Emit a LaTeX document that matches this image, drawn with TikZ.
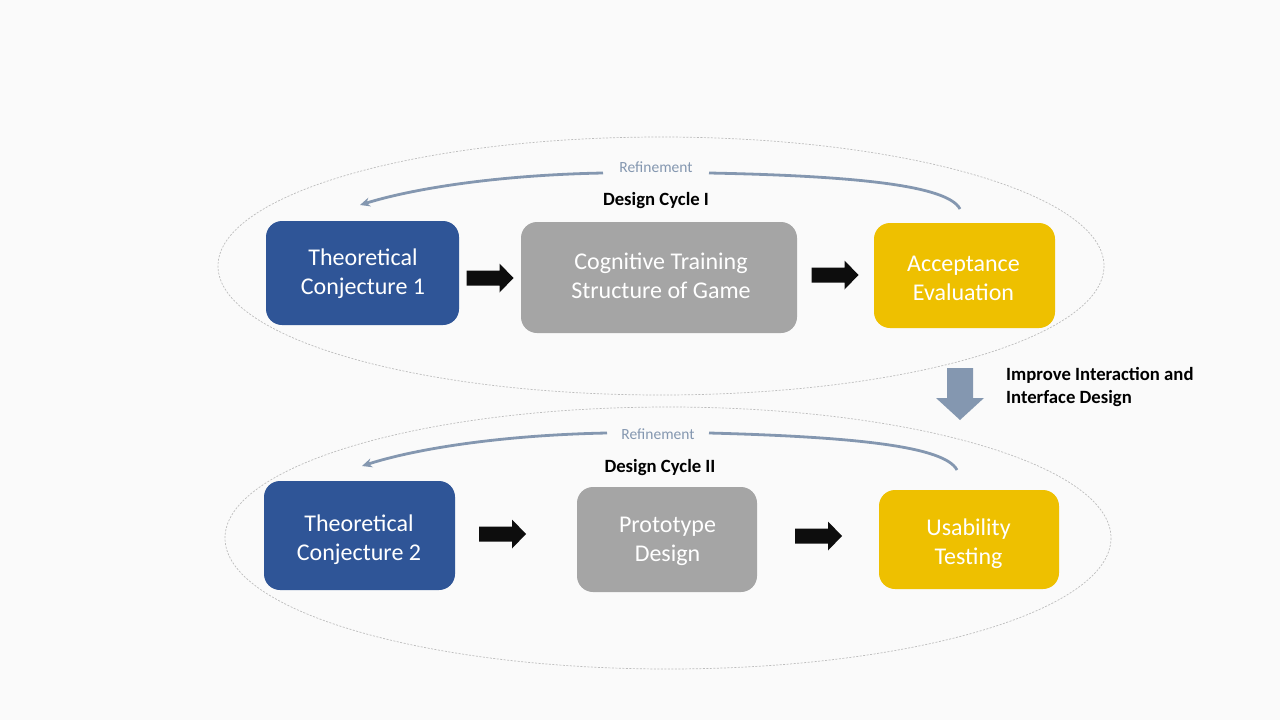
\documentclass[tikz,border=0pt]{standalone}
\usepackage{fontspec}
\setmainfont{Carlito}
\usetikzlibrary{arrows.meta}
\definecolor{bg}{HTML}{FAFAFA}
\definecolor{cblue}{HTML}{2F5597}
\definecolor{cgray}{HTML}{A5A5A5}
\definecolor{cgold}{HTML}{EEC000}
\definecolor{cslate}{HTML}{8497B0}
\definecolor{cdash}{HTML}{BDBDBD}
\newcommand\boxtext[3]{\hspace*{#1}\raisebox{#2}[\height][\depth]{\begin{tabular}{@{}c@{}}#3\end{tabular}}}
\tikzset{
  box/.style={rounded corners=16pt, text=white, inner sep=0pt,
    font=\fontsize{24}{29}\selectfont},
  bluebox/.style={box, fill=cblue},
  graybox/.style={box, fill=cgray},
  goldbox/.style={box, fill=cgold},
  cycle/.style={draw=cdash, line width=0.7pt, dash pattern=on 2pt off 1.5pt},
  refarc/.style={draw=cslate, line width=2.8pt, -{Stealth[length=10pt,width=9pt]}},
  reflabel/.style={text=cslate, font=\fontsize{15.5}{18}\selectfont, inner sep=0pt},
  cyclelabel/.style={font=\fontsize{18.7}{23}\selectfont\bfseries, inner sep=0pt},
  barrow/.pic={\fill[black!95] (-23.5,-7.5) -- (9.5,-7.5) -- (9.5,-14.5) -- (23.5,0) -- (9.5,14.5) -- (9.5,7.5) -- (-23.5,7.5) -- cycle;}
}
\begin{document}
\begin{tikzpicture}[x=1pt,y=-1pt]
\fill[bg] (0,0) rectangle (1280,720);
\useasboundingbox (0,0) rectangle (1280,720);

% cycle ellipses
\draw[cycle] (661,266) ellipse [x radius=443, y radius=129];
\draw[cycle] (668,538) ellipse [x radius=443, y radius=131];

% boxes
\node[bluebox, minimum width=193pt, minimum height=104pt] (tc1) at (362.5,273) {\boxtext{1pt}{-1pt}{Theoretical\\Conjecture 1}};
\node[graybox, minimum width=276pt, minimum height=111pt] (cts) at (659,277.5) {\boxtext{4pt}{-1pt}{Cognitive Training\\Structure of Game}};
\node[goldbox, minimum width=181pt, minimum height=105pt] (ae) at (964.5,275.5) {\boxtext{-2pt}{-5pt}{Acceptance\\Evaluation}};
\node[bluebox, minimum width=191pt, minimum height=109pt] (tc2) at (359.5,535.5) {\boxtext{-1pt}{-5pt}{Theoretical\\Conjecture 2}};
\node[graybox, minimum width=180pt, minimum height=105pt] (pd) at (667,539.5) {\boxtext{1pt}{-2pt}{Prototype\\Design}};
\node[goldbox, minimum width=180pt, minimum height=99pt] (ut) at (969,539.5) {\boxtext{-1pt}{-5pt}{Usability\\Testing}};

% block arrows
\pic at (490,278) {barrow};
\pic at (835,275) {barrow};
\pic at (502.5,534) {barrow};
\pic at (818.5,536) {barrow};

% refinement arcs
\coordinate (r1s) at (960,209);
\coordinate (r1e) at (360,205);
\coordinate (r2s) at (957,470);
\coordinate (r2e) at (362,466);
\draw[refarc] (r1s) .. controls (948,186) and (860,176) .. (709,173)
  (603,173) .. controls (500,175) and (415,188) .. (r1e);
\draw[refarc] (r2s) .. controls (945,447) and (860,437) .. (709,433)
  (607,433) .. controls (505,435) and (418,448) .. (r2e);
\node[reflabel] (ref1) at (656,167) {Refinement};
\node[reflabel] (ref2) at (658,434) {Refinement};

\node[cyclelabel] (dc1) at (656,201) {Design Cycle I};
\node[cyclelabel] (dc2) at (660,468) {Design Cycle II};

% transition arrow
\fill[cslate] (947,368) -- (973,368) -- (973,398) -- (984,398) -- (960,420) -- (936,398) -- (947,398) -- cycle;
\node[cyclelabel, anchor=west, align=left] (imp) at (1006,387.5) {Improve Interaction and\\Interface Design};
\end{tikzpicture}
\end{document}
